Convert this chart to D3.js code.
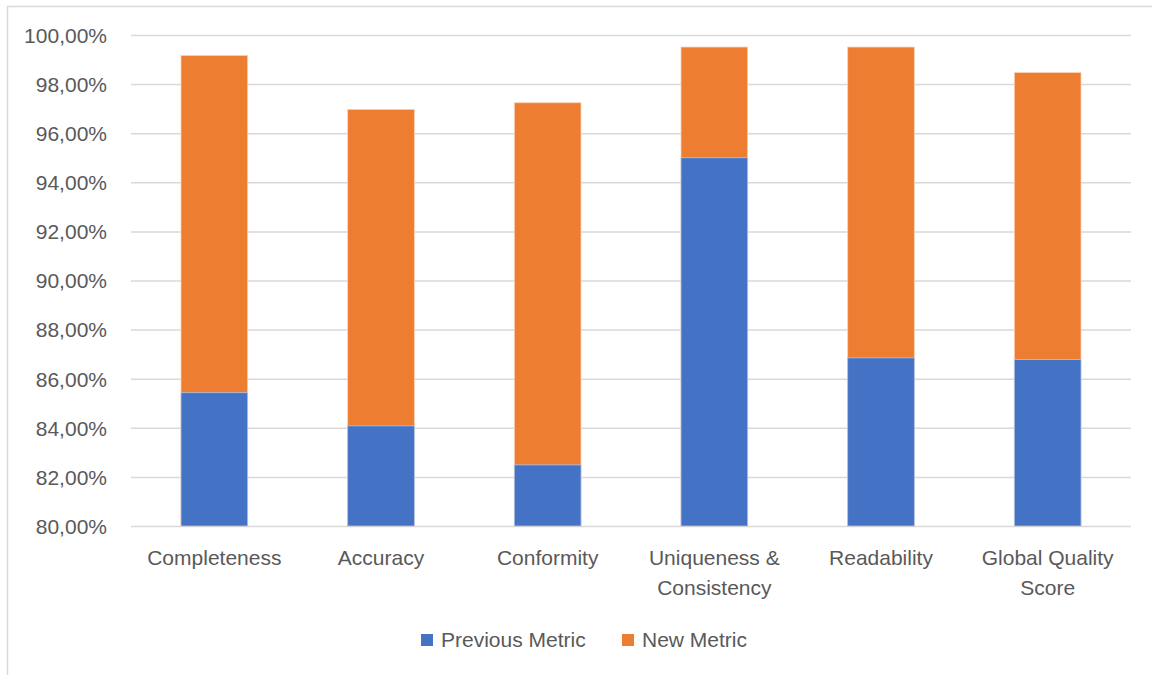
<!DOCTYPE html>
<html>
<head>
<meta charset="utf-8">
<script src="https://cdn.jsdelivr.net/npm/d3@7"></script>
<style>
  body { margin: 0; background: #fff; }
  text { font-family: "Liberation Sans", Arial, sans-serif; fill: #595959; }
</style>
</head>
<body>
<svg id="chart" width="1152" height="675"></svg>
<script>
var categories = [["Completeness"], ["Accuracy"], ["Conformity"], ["Uniqueness &", "Consistency"], ["Readability"], ["Global Quality", "Score"]];
var previousMetric = [85.43, 84.08, 82.49, 95.0, 86.85, 86.78];
var newMetric = [99.17, 96.97, 97.24, 99.51, 99.51, 98.47];
var yTicks = [80, 82, 84, 86, 88, 90, 92, 94, 96, 98, 100];
var seriesNames = ["Previous Metric", "New Metric"];
var colors = ["#4472c4", "#ed7d31"];

var svg = d3.select('#chart');
var plotLeft = 131, plotRight = 1131, plotTop = 35, plotBottom = 526;

var locale = d3.formatLocale({decimal: ",", thousands: ".", grouping: [3], currency: ["", "€"]});
var fmt = locale.format(".2f");

// chart frame (extends past the picture on the right/bottom)
svg.append('rect')
  .attr('x', 7.5).attr('y', 6.5)
  .attr('width', 1200).attr('height', 700)
  .attr('fill', 'none')
  .attr('stroke', '#d9d9d9')
  .attr('stroke-width', 1.5);

var x = d3.scaleBand()
  .domain(d3.range(categories.length))
  .range([plotLeft, plotRight])
  .paddingInner(0.6)
  .paddingOuter(0.3);

var y = d3.scaleLinear().domain([80, 100]).range([plotBottom, plotTop]);

var yAxis = d3.axisLeft(y)
  .tickValues(yTicks)
  .tickSize(-(plotRight - plotLeft))
  .tickFormat(function(d) { return fmt(d) + '%'; });

var gy = svg.append('g')
  .attr('transform', 'translate(' + plotLeft + ',0)')
  .call(yAxis);
gy.select('.domain').remove();
gy.selectAll('.tick line')
  .attr('stroke', '#d9d9d9')
  .attr('stroke-width', 1.5);
gy.selectAll('.tick text')
  .attr('x', -24)
  .attr('dy', '0.35em')
  .style('font-size', '21px')
  .style('font-family', '"Liberation Sans", Arial, sans-serif')
  .style('fill', '#595959');

// new metric bars (behind)
svg.append('g').selectAll('rect')
  .data(newMetric)
  .join('rect')
  .attr('x', function(d, i) { return x(i); })
  .attr('y', function(d) { return y(d); })
  .attr('width', x.bandwidth())
  .attr('height', function(d) { return y(80) - y(d); })
  .attr('fill', colors[1])
  .attr('stroke', '#fbd1b5')
  .attr('stroke-width', 0.8);

// previous metric bars (front)
svg.append('g').selectAll('rect')
  .data(previousMetric)
  .join('rect')
  .attr('x', function(d, i) { return x(i); })
  .attr('y', function(d) { return y(d); })
  .attr('width', x.bandwidth())
  .attr('height', function(d) { return y(80) - y(d); })
  .attr('fill', colors[0])
  .attr('stroke', '#b4c7e7')
  .attr('stroke-width', 0.8);

// category labels
var labels = svg.append('g').selectAll('text')
  .data(categories)
  .join('text')
  .attr('x', function(d, i) { return x(i) + x.bandwidth() / 2; })
  .attr('y', 565)
  .attr('text-anchor', 'middle')
  .style('font-size', '21px');
labels.selectAll('tspan')
  .data(function(d) { return d; })
  .join('tspan')
  .attr('x', function() { return d3.select(this.parentNode).attr('x'); })
  .attr('dy', function(d, i) { return i === 0 ? 0 : 30; })
  .text(function(d) { return d; });

// legend
var legendX = [421, 622];
var legend = svg.append('g').selectAll('g')
  .data(seriesNames)
  .join('g')
  .attr('transform', function(d, i) { return 'translate(' + legendX[i] + ',634)'; });
legend.append('rect')
  .attr('width', 12).attr('height', 12)
  .attr('fill', function(d, i) { return colors[i]; });
legend.append('text')
  .attr('x', 20).attr('y', 13)
  .style('font-size', '21px')
  .text(function(d) { return d; });
</script>
</body>
</html>
